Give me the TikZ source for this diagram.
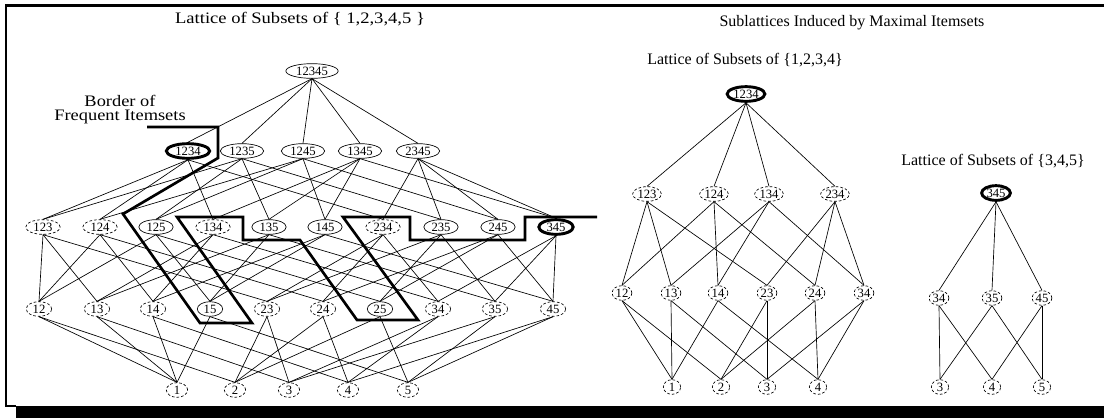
\documentclass[tikz,border=0pt]{standalone}
\usepackage{fontspec}
\setmainfont{Liberation Serif}
\usetikzlibrary{shapes.geometric}

\tikzset{
  pad/.style={inner xsep=0.5pt, minimum width=13pt},
  itemset/.style={draw, ellipse, line width=0.5pt, pad, inner ysep=0pt,
    minimum height=11pt, font=\fontsize{9.5}{11}\selectfont},
  frequent/.style={itemset, dash pattern=on 2pt off 1.5pt},
  maximal/.style={itemset, line width=2.2pt},
  link/.style={line width=0.5pt},
  border/.style={line width=2pt, line join=miter},
  caption/.style={font=\fontsize{12}{14}\selectfont}
}

\begin{document}
\begin{tikzpicture}[x=0.75pt, y=-0.75pt]
    \useasboundingbox (0,0) rectangle (1104,418);

    % frame with shadow at the bottom
    \draw[line width=2pt] (1104,5.5) -- (6,5.5) -- (6,406) -- (16,406);
    \fill (16,406) rectangle (1104,418);

    % titles
    \node[caption] (title) at (300,19) {\scalebox{1.16}[1]{Lattice of Subsets of \{ 1,2,3,4,5 \}}};
    \node[caption] (subtitle) at (852,23) {Sublattices Induced by Maximal Itemsets};
    \node[caption] (titlea) at (745,60) {Lattice of Subsets of \{1,2,3,4\}};
    \node[caption] (titleb) at (993,161) {Lattice of Subsets of \{3,4,5\}};
    \node[caption, align=center, font=\fontsize{12}{10.5}\selectfont] (bordertext) at (120,110)
      {\scalebox{1.15}[1]{Border of}\\\scalebox{1.15}[1]{Frequent Itemsets}};

    % full lattice
    \begin{scope}[pad/.style={inner xsep=2pt, minimum width=16pt}]
    \node[itemset] (n12345) at (312,71) {12345};

    \node[maximal] (n1234) at (188,151) {1234};
    \node[itemset] (n1235) at (242,151) {1235};
    \node[itemset] (n1245) at (303,151) {1245};
    \node[itemset] (n1345) at (360,151) {1345};
    \node[itemset] (n2345) at (418,151) {2345};

    \node[frequent] (n123) at (43,227) {123};
    \node[frequent] (n124) at (100,227) {124};
    \node[itemset] (n125) at (156,227) {125};
    \node[frequent] (n134) at (213,227) {134};
    \node[itemset] (n135) at (269,227) {135};
    \node[itemset] (n145) at (325,227) {145};
    \node[frequent] (n234) at (383,227) {234};
    \node[itemset] (n235) at (441,227) {235};
    \node[itemset] (n245) at (498,227) {245};
    \node[maximal] (n345) at (556,227) {345};

    \node[frequent] (n12) at (39,309) {12};
    \node[frequent] (n13) at (97,309) {13};
    \node[frequent] (n14) at (153,309) {14};
    \node[itemset] (n15) at (210,309) {15};
    \node[frequent] (n23) at (267,309) {23};
    \node[frequent] (n24) at (323,309) {24};
    \node[itemset] (n25) at (380,309) {25};
    \node[frequent] (n34) at (438,309) {34};
    \node[frequent] (n35) at (495,309) {35};
    \node[frequent] (n45) at (553,309) {45};

    \node[frequent] (n1) at (177,390) {1};
    \node[frequent] (n2) at (235,390) {2};
    \node[frequent] (n3) at (289,390) {3};
    \node[frequent] (n4) at (348,390) {4};
    \node[frequent] (n5) at (408,390) {5};
    \end{scope}

    \foreach \u/\ds in {12345/{1234,1235,1245,1345,2345},
        1234/{123,124,134,234}, 1235/{123,125,135,235}, 1245/{124,125,145,245},
        1345/{134,135,145,345}, 2345/{234,235,245,345},
        123/{12,13,23}, 124/{12,14,24}, 125/{12,15,25}, 134/{13,14,34}, 135/{13,15,35},
        145/{14,15,45}, 234/{23,24,34}, 235/{23,25,35}, 245/{24,25,45}, 345/{34,35,45},
        12/{1,2}, 13/{1,3}, 14/{1,4}, 15/{1,5}, 23/{2,3},
        24/{2,4}, 25/{2,5}, 34/{3,4}, 35/{3,5}, 45/{4,5}}
      \foreach \d in \ds
        \draw[link] (n\u.south) -- (n\d.north);

    % border of frequent itemsets
    \draw[border] (147,127) -- (218,127) -- (218,158) -- (123,214) -- (200,323)
      -- (252,323) -- (177,217) -- (243,217) -- (243,240) -- (300,240) -- (357,320)
      -- (418,320) -- (343,217) -- (410,217) -- (410,240) -- (525,240) -- (525,217)
      -- (597,217);

    % sublattice of 1234
    \node[maximal] (a1234) at (746,94) {1234};

    \node[frequent] (a123) at (647,194) {123};
    \node[frequent] (a124) at (714,194) {124};
    \node[frequent] (a134) at (769,194) {134};
    \node[frequent] (a234) at (835,194) {234};

    \node[frequent] (a12) at (622,293) {12};
    \node[frequent] (a13) at (671,293) {13};
    \node[frequent] (a14) at (718,293) {14};
    \node[frequent] (a23) at (767,293) {23};
    \node[frequent] (a24) at (815,293) {24};
    \node[frequent] (a34) at (864,293) {34};

    \node[frequent] (a1) at (672,387) {1};
    \node[frequent] (a2) at (721,387) {2};
    \node[frequent] (a3) at (767,387) {3};
    \node[frequent] (a4) at (818,387) {4};

    \foreach \u/\ds in {1234/{123,124,134,234},
        123/{12,13,23}, 124/{12,14,24}, 134/{13,14,34}, 234/{23,24,34},
        12/{1,2}, 13/{1,3}, 14/{1,4}, 23/{2,3}, 24/{2,4}, 34/{3,4}}
      \foreach \d in \ds
        \draw[link] (a\u.south) -- (a\d.north);

    % sublattice of 345
    \node[maximal] (b345) at (996,193) {345};

    \node[frequent] (b34) at (939,298) {34};
    \node[frequent] (b35) at (992,298) {35};
    \node[frequent] (b45) at (1042,298) {45};

    \node[frequent] (b3) at (940,387) {3};
    \node[frequent] (b4) at (992,387) {4};
    \node[frequent] (b5) at (1042,387) {5};

    \foreach \u/\ds in {345/{34,35,45}, 34/{3,4}, 35/{3,5}, 45/{4,5}}
      \foreach \d in \ds
        \draw[link] (b\u.south) -- (b\d.north);
\end{tikzpicture}
\end{document}
